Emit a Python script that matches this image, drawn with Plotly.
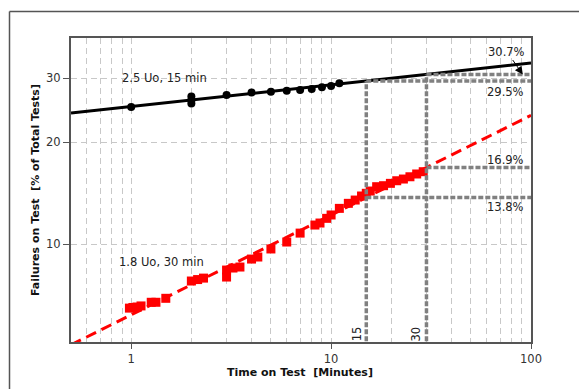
import numpy as np
import plotly.graph_objects as go

# ---------------- data ----------------
black_t = [1, 2, 2, 2, 3, 4, 5, 6, 7, 8, 9, 10, 11]
black_F = [25.1, 26.8, 26.2, 25.65, 27.05, 27.5, 27.6, 27.8, 27.9, 28.1, 28.4, 28.6, 29.1]

red_t = [0.98, 1.02, 1.07, 1.12, 1.26, 1.33, 1.49, 2.0, 2.15, 2.3, 3.0, 3.0, 3.23, 3.5,
         4.0, 4.3, 5.0, 6.0, 7.0, 8.3, 8.8, 9.5, 10, 11, 12.2, 13.2, 14.2, 15, 15.7,
         16.9, 18.3, 19.8, 21.3, 23, 24.8, 26.8, 28.9]
red_F = [6.38, 6.41, 6.43, 6.48, 6.65, 6.65, 6.84, 7.73, 7.81, 7.89, 8.35, 7.95, 8.47, 8.53,
         9.02, 9.15, 9.68, 10.16, 10.81, 11.43, 11.59, 11.97, 12.25, 12.82, 13.27, 13.57, 13.95, 14.21, 14.43,
         14.86, 14.96, 15.20, 15.47, 15.65, 15.89, 16.19, 16.44]

black_fit_t = [0.5, 100]
black_fit_F = [24.15, 32.9]
red_fit_t = [0.5, 100]
red_fit_F = [4.91, 23.8]

ref_t = [15, 30]
black_ref_F = [29.5, 30.7]
red_ref_F = [13.8, 16.9]

x_ticks = [1, 10, 100]
x_minor = [0.6, 0.7, 0.8, 0.9, 2, 3, 4, 5, 6, 7, 8, 9, 20, 30, 40, 50, 60, 70, 80, 90]
y_ticks = [10, 20, 30]
y_range_F = [5.01, 38.1]
x_range = [0.5, 100]


def wb(F):
    """Weibull probability scale: ln(-ln(1-F))."""
    return np.log(-np.log(1 - np.asarray(F, dtype=float) / 100.0))


FONT = "DejaVu Sans"
GRID = "#c8c8c8"
GRAY = "#808080"

fig = go.Figure()

# fitted lines
fig.add_trace(go.Scatter(x=black_fit_t, y=wb(black_fit_F), mode="lines",
                         line=dict(color="black", width=3), hoverinfo="skip"))
fig.add_trace(go.Scatter(x=red_fit_t, y=wb(red_fit_F), mode="lines",
                         line=dict(color="#ff0000", width=3, dash="11px,6px"), hoverinfo="skip"))

# data points
fig.add_trace(go.Scatter(x=black_t, y=wb(black_F), mode="markers",
                         marker=dict(color="black", size=8, symbol="circle")))
fig.add_trace(go.Scatter(x=red_t, y=wb(red_F), mode="markers",
                         marker=dict(color="#ff0000", size=9, symbol="square")))

# gray reference lines
ymin = float(wb(y_range_F[0])) - 0.2
gx, gy = [], []
for t, fb, fr in zip(ref_t, black_ref_F, red_ref_F):
    yb = float(wb(fb))
    yr = float(wb(fr))
    gx += [t, t, None, t, x_range[1] * 1.05, None, t, x_range[1] * 1.05, None]
    gy += [ymin, yb, None, yb, yb, None, yr, yr, None]
fig.add_trace(go.Scatter(x=gx, y=gy, mode="lines",
                         line=dict(color=GRAY, width=3.5, dash="5px,2px"), hoverinfo="skip"))

ann_font = dict(family=FONT, size=11.5, color="#222")
annotations = [
    dict(x=np.log10(1.46), y=float(wb(30)), text="2.5 Uo, 15 min", showarrow=False,
         font=ann_font, xanchor="center", yanchor="middle"),
    dict(x=np.log10(1.41), y=float(wb(8.85)), text="1.8 Uo, 30 min", showarrow=False,
         font=ann_font, xanchor="center", yanchor="middle"),
    dict(x=np.log10(91), y=float(wb(black_ref_F[1])), text=f"{black_ref_F[1]}%",
         showarrow=True, arrowhead=2, arrowsize=1.6, arrowwidth=1, arrowcolor="black",
         ax=-16, ay=-23, font=ann_font),
    dict(x=1, xref="paper", xanchor="right", xshift=-5, y=float(wb(black_ref_F[0])),
         yshift=-10.7, yanchor="middle", text=f"{black_ref_F[0]}%", showarrow=False, font=ann_font),
    dict(x=1, xref="paper", xanchor="right", xshift=-5, y=float(wb(red_ref_F[1])),
         yshift=7.6, yanchor="middle", text=f"{red_ref_F[1]}%", showarrow=False, font=ann_font),
    dict(x=1, xref="paper", xanchor="right", xshift=-5, y=float(wb(red_ref_F[0])),
         yshift=-9, yanchor="middle", text=f"{red_ref_F[0]}%", showarrow=False, font=ann_font),
    dict(x=np.log10(ref_t[0]), y=0, yref="paper", xshift=-9, yshift=8, text=str(ref_t[0]),
         textangle=-90, showarrow=False, font=ann_font, xanchor="center", yanchor="middle"),
    dict(x=np.log10(ref_t[1]), y=0, yref="paper", xshift=-10, yshift=8, text=str(ref_t[1]),
         textangle=-90, showarrow=False, font=ann_font, xanchor="center", yanchor="middle"),
    # axis titles
    dict(x=0.5, xref="paper", y=0, yref="paper", yshift=-30.7, xshift=-1,
         text="<b>Time on Test\u00a0 [Minutes]</b>", showarrow=False,
         font=dict(family=FONT, size=11, color="#111"), xanchor="center", yanchor="middle"),
    dict(x=0, xref="paper", y=0.5, yref="paper", xshift=-36,
         text="<b>Failures on Test\u00a0 [% of Total Tests]</b>", showarrow=False, textangle=-90,
         font=dict(family=FONT, size=11, color="#111"), xanchor="center", yanchor="middle"),
]

# outer frame (left and top edges)
L, R, T, B = 71, 48, 38, 47
W, H = 579, 389
pw, ph = W - L - R, H - T - B
def px2paper_x(px):
    return (px - L) / pw
def px2paper_y(py):
    return (H - B - py) / ph

shapes = [
    dict(type="line", xref="paper", yref="paper", x0=px2paper_x(9.5), x1=px2paper_x(590),
         y0=px2paper_y(11.5), y1=px2paper_y(11.5), line=dict(color="#555", width=1.5)),
    dict(type="line", xref="paper", yref="paper", x0=px2paper_x(9.5), x1=px2paper_x(9.5),
         y0=px2paper_y(11.5), y1=px2paper_y(400), line=dict(color="#555", width=1.5)),
]

fig.update_layout(
    width=W, height=H,
    margin=dict(l=L, r=R, t=T, b=B),
    paper_bgcolor="white", plot_bgcolor="white",
    showlegend=False,
    annotations=annotations,
    shapes=shapes,
    font=dict(family=FONT, size=11, color="#333"),
)

fig.update_xaxes(
    type="log", range=[np.log10(x_range[0]), np.log10(x_range[1])],
    tickvals=x_ticks, ticktext=[str(v) for v in x_ticks],
    ticks="outside", ticklen=5, tickcolor="#555", tickwidth=1,
    tickfont=dict(family=FONT, size=11.5, color="#333"),
    showgrid=True, gridcolor=GRID, griddash="6px,4px", gridwidth=1,
    minor=dict(tickvals=x_minor, showgrid=True, gridcolor=GRID, griddash="6px,4px",
               gridwidth=1, ticks=""),
    showline=True, linecolor="#555", linewidth=2, mirror=True, zeroline=False,
)
fig.update_yaxes(
    range=[float(wb(y_range_F[0])), float(wb(y_range_F[1]))],
    tickvals=[float(v) for v in wb(y_ticks)], ticktext=[str(v) for v in y_ticks],
    ticks="outside", ticklen=6, tickcolor="#555", tickwidth=1,
    tickfont=dict(family=FONT, size=11.5, color="#333"),
    showgrid=True, gridcolor=GRID, griddash="6px,4px", gridwidth=1,
    showline=True, linecolor="#555", linewidth=2, mirror=True, zeroline=False,
)

fig.write_html("out.html")
